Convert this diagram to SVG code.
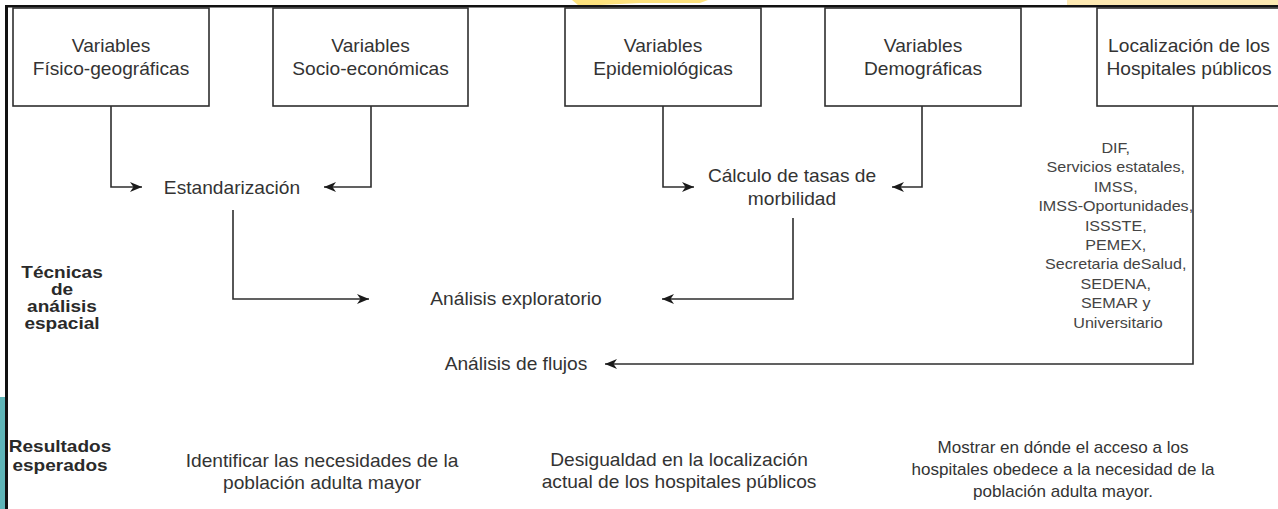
<svg xmlns="http://www.w3.org/2000/svg" width="1278" height="509" viewBox="0 0 1278 509">
<defs>
<style>
.box{fill:#fff;stroke:#2e2e2e;stroke-width:1.6}
.t{font-family:"Liberation Sans",Arial,sans-serif;font-size:18px;fill:#333;text-anchor:middle}
.s{font-size:14px;fill:#444}
.b{font-size:17px;font-weight:bold;fill:#2a2a2a}
.m{font-size:16px}
.c{fill:none;stroke:#2e2e2e;stroke-width:1.6;marker-end:url(#arr)}
</style>
<marker id="arr" markerUnits="userSpaceOnUse" viewBox="0 0 12 12" refX="12" refY="6" markerWidth="12" markerHeight="12" orient="auto"><path d="M0,1 L12,6 L0,11 L3.5,6 Z" fill="#1a1a1a"/></marker>
</defs>
<rect width="1278" height="509" fill="#fff"/>
<g id="decor">
<rect x="1067" y="0" width="211" height="5" fill="#fde9b2"/>
<path d="M572,0 H708 L700,3 H640 L600,5 H578 Z" fill="#fde27e"/>
<rect x="0" y="397" width="5" height="112" fill="#5fb5b8"/>
<rect x="5" y="5" width="1273" height="2.5" fill="#111"/>
<rect x="5" y="5" width="3" height="504" fill="#111"/>
</g>
<g id="connectors">
<path class="c" d="M111,106 V187 H142"/>
<path class="c" d="M371,106 V187 H324"/>
<path class="c" d="M663,106 V187 H694"/>
<path class="c" d="M922,106 V187 H892"/>
<path class="c" d="M233,210 V299 H369"/>
<path class="c" d="M793,218 V299 H662"/>
<path class="c" d="M1193,106 V364 H605"/>
</g>
<g id="n-fisico">
<rect class="box" x="13" y="8" width="196" height="98"/>
<text class="t" transform="translate(111 0) scale(1.065 1)"><tspan x="0" y="52">Variables</tspan><tspan x="0" y="75">Físico-geográficas</tspan></text>
</g>
<g id="n-socio">
<rect class="box" x="273" y="8" width="195" height="98"/>
<text class="t" transform="translate(370.5 0) scale(1.065 1)"><tspan x="0" y="52">Variables</tspan><tspan x="0" y="75">Socio-económicas</tspan></text>
</g>
<g id="n-epi">
<rect class="box" x="565" y="8" width="196" height="98"/>
<text class="t" transform="translate(663 0) scale(1.065 1)"><tspan x="0" y="52">Variables</tspan><tspan x="0" y="75">Epidemiológicas</tspan></text>
</g>
<g id="n-demo">
<rect class="box" x="825" y="8" width="196" height="98"/>
<text class="t" transform="translate(923 0) scale(1.065 1)"><tspan x="0" y="52">Variables</tspan><tspan x="0" y="75">Demográficas</tspan></text>
</g>
<g id="n-hosp">
<rect class="box" x="1097" y="8" width="200" height="98"/>
<text class="t" transform="translate(1189 0) scale(1.065 1)"><tspan x="0" y="52">Localización de los</tspan><tspan x="0" y="75">Hospitales públicos</tspan></text>
</g>
<g id="n-estand">
<text class="t" transform="translate(232 0) scale(1.065 1)" x="0" y="194">Estandarización</text>
</g>
<g id="n-calculo">
<text class="t" transform="translate(792 0) scale(1.065 1)"><tspan x="0" y="182">Cálculo de tasas de</tspan><tspan x="0" y="205">morbilidad</tspan></text>
</g>
<g id="n-explor">
<text class="t" transform="translate(516 0) scale(1.065 1)" x="0" y="305">Análisis exploratorio</text>
</g>
<g id="n-flujos">
<text class="t" transform="translate(516 0) scale(1.065 1)" x="0" y="370">Análisis de flujos</text>
</g>
<g id="n-lista">
<text class="t s" transform="translate(1118 0) scale(1.15 1)">
<tspan x="0" y="153">DIF,</tspan>
<tspan x="0" y="172.4">Servicios estatales,</tspan>
<tspan x="0" y="191.8">IMSS,</tspan>
<tspan x="0" y="211.2">IMSS-Oportunidades,</tspan>
<tspan x="0" y="230.6">ISSSTE,</tspan>
<tspan x="0" y="250">PEMEX,</tspan>
<tspan x="0" y="269.4">Secretaria deSalud,</tspan>
<tspan x="0" y="288.8">SEDENA,</tspan>
<tspan x="0" y="308.2">SEMAR y</tspan>
<tspan x="0" y="327.6">Universitario</tspan>
</text>
</g>
<g id="n-tecnicas">
<text class="t b" transform="translate(62 0) scale(1.12 1)"><tspan x="0" y="278">Técnicas</tspan><tspan x="0" y="295">de</tspan><tspan x="0" y="312">análisis</tspan><tspan x="0" y="329">espacial</tspan></text>
</g>
<g id="n-resultados">
<text class="t b" transform="translate(60 0) scale(1.12 1)"><tspan x="0" y="452">Resultados</tspan><tspan x="0" y="471">esperados</tspan></text>
</g>
<g id="n-res1">
<text class="t" transform="translate(322 0) scale(1.065 1)"><tspan x="0" y="467">Identificar las necesidades de la</tspan><tspan x="0" y="489">población adulta mayor</tspan></text>
</g>
<g id="n-res2">
<text class="t" transform="translate(679 0) scale(1.065 1)"><tspan x="0" y="466">Desigualdad en la localización</tspan><tspan x="0" y="488">actual de los hospitales públicos</tspan></text>
</g>
<g id="n-res3">
<text class="t m" transform="translate(1063 0) scale(1.065 1)"><tspan x="0" y="453">Mostrar en dónde el acceso a los</tspan><tspan x="0" y="475">hospitales obedece a la necesidad de la</tspan><tspan x="0" y="497">población adulta mayor.</tspan></text>
</g>
</svg>
